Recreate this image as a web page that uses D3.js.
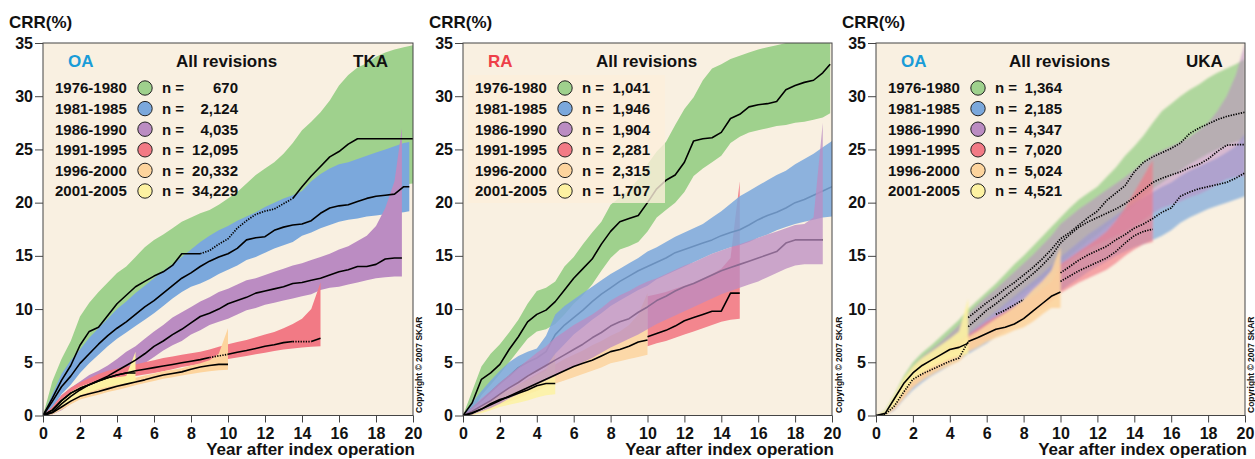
<!DOCTYPE html>
<html>
<head>
<meta charset="utf-8">
<script src="https://cdn.jsdelivr.net/npm/d3@7"></script>
<style>
  body { margin: 0; background: #fff; }
  svg { display: block; }
  text { font-family: "Liberation Sans", Arial, sans-serif; font-weight: bold; fill: #111; }
</style>
</head>
<body>
<svg width="1255" height="459"></svg>
<script>
// time grid (years after index operation)
const years = [0,0.5,1,1.5,2,2.5,3,3.5,4,4.5,5,5.5,6,6.5,7,7.5,8,8.5,9,9.5,10,10.5,11,11.5,12,12.5,13,13.5,14,14.5,15,15.5,16,16.5,17,17.5,18,18.5,19,19.5,20];
const cohorts = ["1976-1980", "1981-1985", "1986-1990", "1991-1995", "1996-2000", "2001-2005"];
const yTicks = [0, 5, 10, 15, 20, 25, 30, 35];
const xTicks = [0, 2, 4, 6, 8, 10, 12, 14, 16, 18, 20];
const colors = ["#9fd18d", "#7ba8dc", "#bb8cc2", "#f27a85", "#fdd49d", "#fdf2a2"];

// ---- TKA, OA ----
const tkaN = [670, 2124, 4035, 12095, 20332, 34229];
const tkaEnd = [20, 19.8, 19.4, 15, 10, 5];
const tkaGreenEst = [0,1.6,3.3,4.7,6.6,7.9,8.3,9.4,10.5,11.3,12.1,12.6,13.1,13.5,14.1,15.2,15.2,15.2,15.5,16.1,16.6,17.6,18.3,18.9,19.2,19.4,19.9,20.4,21.5,22.5,23.4,24.3,24.8,25.5,26,26,26,26,26,26,26];
const tkaGreenLo = [0,0.8,2.5,3.6,4.8,5.8,6.5,7.4,8.3,8.9,9.6,10.2,10.8,11.4,12.0,12.8,13.3,13.6,14.0,14.5,15.0,15.5,16.0,16.4,16.8,17.2,17.6,18.0,18.6,19.2,19.8,20.3,20.7,21.0,21.2,21.3,21.4,21.5,21.6,21.7,21.8];
const tkaGreenHi = [0,3.2,5.3,7.0,9.3,10.6,11.6,12.5,13.4,14.0,14.9,15.8,16.5,17.0,17.6,18.2,18.6,19.0,19.3,19.8,20.4,21.0,21.8,22.6,23.2,23.8,24.6,25.6,26.8,27.6,28.5,29.6,31.0,32.0,32.7,33.1,33.7,34.1,34.4,34.6,34.8];
const tkaBlueEst = [0,1.3,2.7,3.7,4.9,5.8,6.7,7.5,8.2,8.8,9.5,10.2,10.8,11.5,12.2,12.9,13.4,14.0,14.5,14.9,15.2,15.7,16.5,16.7,16.8,17.4,17.7,17.9,18.0,18.3,19.0,19.5,19.7,19.8,20.1,20.4,20.6,20.7,20.8,21.5,21.5];
const tkaBlueLo = [0,0.7,2.0,2.9,4.0,4.9,5.7,6.5,7.2,7.8,8.4,9.0,9.6,10.3,11.0,11.6,12.1,12.4,12.8,13.3,13.7,14.1,14.6,14.9,15.3,15.7,16.0,16.3,16.9,17.2,17.6,17.9,18.2,18.4,18.5,18.7,18.8,18.9,19.0,19.1,19.2];
const tkaBlueHi = [0,2.0,3.9,5.2,6.2,7.3,8.2,9.1,10.0,10.7,11.5,12.2,12.9,13.6,14.2,14.9,15.6,16.3,16.9,17.4,17.8,18.3,18.7,19.1,19.6,20.0,20.4,20.7,21.1,22.0,22.7,23.2,23.6,23.8,24.1,24.4,24.7,25.0,25.3,25.6,25.7];
const tkaPurpleEst = [0,0.3,1.1,1.8,2.4,2.9,3.3,3.7,4.2,4.7,5.2,5.8,6.5,7.0,7.6,8.1,8.7,9.3,9.6,10.0,10.5,10.8,11.1,11.5,11.7,11.9,12.1,12.4,12.5,12.7,12.9,13.2,13.5,13.7,14.0,14.0,14.2,14.7,14.8,14.8];
const tkaPurpleLo = [0,0.1,0.5,1.1,1.6,2.0,2.5,2.9,3.3,3.8,4.3,4.9,5.5,6.1,6.6,7.0,7.6,8.0,8.5,8.8,9.1,9.5,9.9,10.1,10.4,10.6,10.8,11.0,11.2,11.4,11.8,12.0,12.1,12.3,12.5,12.7,12.9,13.0,13.05,13.05];
const tkaPurpleHi = [0,0.8,1.9,2.6,3.2,3.8,4.2,4.7,5.3,6.0,6.5,7.2,7.9,8.5,9.2,9.7,10.2,10.7,11.1,11.6,11.9,12.3,12.7,12.9,13.2,13.5,13.8,14.1,14.3,14.6,14.9,15.2,15.6,15.9,16.4,16.9,17.8,19.5,22.0,27.0];
const tkaRedEst = [0,0.5,1.4,2.1,2.55,2.9,3.25,3.55,3.8,4.0,4.2,4.35,4.5,4.65,4.8,4.95,5.1,5.25,5.45,5.6,5.75,5.95,6.1,6.3,6.5,6.65,6.85,6.95,6.95,6.95,7.25];
const tkaRedLo = [0,0.2,0.9,1.6,2.1,2.5,2.85,3.1,3.3,3.5,3.7,3.85,4.0,4.15,4.35,4.55,4.7,4.85,5.0,5.15,5.3,5.45,5.6,5.75,5.9,6.05,6.2,6.3,6.4,6.45,6.5];
const tkaRedHi = [0,0.8,1.9,2.6,3.1,3.5,3.9,4.2,4.4,4.6,4.8,5.0,5.2,5.4,5.55,5.7,5.85,6.0,6.2,6.45,6.7,6.9,7.1,7.35,7.6,7.85,8.2,8.6,9.1,10.0,12.5];
const tkaOrangeEst = [0,0.25,0.8,1.35,1.8,2.05,2.25,2.5,2.75,2.95,3.15,3.35,3.6,3.8,3.95,4.1,4.35,4.55,4.7,4.8,4.8];
const tkaOrangeLo = [0,0.1,0.55,1.05,1.5,1.75,1.95,2.2,2.4,2.6,2.85,3.05,3.25,3.45,3.6,3.75,3.9,4.05,4.15,4.25,4.3];
const tkaOrangeHi = [0,0.4,1.1,1.7,2.1,2.45,2.7,2.95,3.15,3.35,3.55,3.75,3.95,4.15,4.3,4.45,4.7,4.9,5.2,5.8,8.2];
const tkaYellowEst = [0,0.5,1.4,2.1,2.55,2.9,3.25,3.55,3.8,4.0,4.0];
const tkaYellowLo = [0,0.2,0.9,1.4,1.9,2.2,2.5,2.7,2.9,3.0,3.1];
const tkaYellowHi = [0,0.6,1.5,2.2,2.7,3.0,3.3,3.5,3.6,3.7,6.0];
const tkaDotted = [[[8.5, 13.5]], [], [], [[9, 10], [13.5, 14.5]], [], []];

// ---- RA ----
const raN = [1041, 1946, 1904, 2281, 2315, 1707];
const raEnd = [19.9, 20, 19.5, 15, 10, 5];
const raGreenEst = [0,1.2,3.4,4.0,4.8,6.2,7.4,8.8,9.5,9.9,10.7,11.8,12.9,13.8,14.7,16.1,17.3,18.2,18.5,18.8,20.0,21.3,22.1,22.6,23.8,25.8,26.0,26.1,26.6,27.9,28.3,29.0,29.2,29.3,29.5,30.6,31.0,31.3,31.5,32.2,33.0];
const raGreenLo = [0,0.3,1.9,2.9,3.9,5.0,6.1,7.2,7.9,8.1,8.6,9.5,10.5,11.3,12.3,13.6,14.8,15.6,15.9,16.3,17.3,18.6,19.3,20.0,21.0,22.5,23.2,23.8,24.4,25.6,26.2,26.6,26.8,27.0,27.2,27.3,27.5,27.6,27.8,28.0,28.4];
const raGreenHi = [0,2.3,4.6,5.8,6.7,7.8,9.0,10.5,11.7,12.0,12.6,14.0,14.9,16.1,17.2,18.2,19.8,20.5,21.2,22.2,23.6,24.8,25.7,27.3,28.8,29.9,31.5,32.6,33.0,33.5,33.8,34.1,34.4,34.6,34.8,35,35,35,35,35,35];
const raBlueEst = [0,0.7,1.4,2.2,3.0,3.7,4.5,5.0,5.4,6.0,7.6,8.5,9.2,9.9,10.7,11.4,12.0,12.6,13.1,13.6,14.0,14.4,14.8,15.3,15.6,15.9,16.2,16.5,16.9,17.2,17.45,17.9,18.4,18.8,19.1,19.5,20.0,20.3,20.7,21.1,21.5];
const raBlueLo = [0,0.3,0.8,1.4,2.0,2.6,3.2,3.7,4.1,4.6,5.8,6.7,7.6,8.3,9.0,9.6,10.3,10.8,11.3,11.8,12.2,12.8,13.2,13.6,14.0,14.4,14.8,15.2,15.5,15.8,16.0,16.3,16.7,17.0,17.4,17.7,18.0,18.2,18.4,18.6,18.7];
const raBlueHi = [0,1.2,2.3,3.3,4.2,5.0,5.6,6.0,6.3,7.5,9.5,10.3,10.9,11.5,12.1,12.7,13.3,13.8,14.3,14.8,15.4,15.8,16.3,16.8,17.2,17.6,18.0,18.6,19.2,19.9,20.6,21.1,21.6,22.1,22.6,23.0,23.6,24.1,24.6,25.2,25.8];
const raPurpleEst = [0,0.4,0.9,1.4,2.0,2.6,3.1,3.7,4.2,4.7,5.2,5.7,6.2,6.7,7.3,7.8,8.4,8.8,9.1,9.7,10.2,10.8,11.2,11.7,12.1,12.4,12.8,13.2,13.6,13.9,14.2,14.5,14.8,15.1,15.4,16.2,16.5,16.5,16.5,16.5];
const raPurpleLo = [0,0.1,0.4,0.7,1.1,1.6,2.0,2.5,2.9,3.3,3.7,4.2,4.6,5.0,5.4,5.9,6.4,6.8,7.2,7.6,8.1,8.6,9.0,9.4,9.8,10.2,10.6,11.0,11.4,11.7,12.0,12.3,12.6,13.0,13.4,13.8,14.1,14.2,14.2,14.2];
const raPurpleHi = [0,0.8,1.6,2.3,3.1,3.8,4.5,5.2,5.9,6.5,7.3,7.9,8.5,9.0,9.5,10.1,10.8,11.3,11.7,12.2,12.6,12.9,13.3,13.7,14.1,14.4,14.8,15.2,15.5,15.8,16.1,16.4,16.7,17.0,17.3,17.6,17.9,18.0,18.6,27.5];
const raRedEst = [null,null,null,null,null,null,null,null,null,null,null,null,null,null,null,null,null,null,null,null,7.4,7.7,8.0,8.4,8.9,9.2,9.5,9.8,9.8,11.5,11.5];
const raRedLo = [null,null,null,null,null,null,null,null,null,null,null,null,null,null,null,null,null,null,null,null,6.5,6.8,7.0,7.3,7.6,7.9,8.2,8.5,8.8,9.0,9.1];
const raRedHi = [null,null,null,null,null,null,null,null,null,null,null,null,null,null,null,null,null,null,null,null,11.2,11.4,11.6,11.9,12.2,12.5,12.9,13.3,13.8,14.8,22.0];
const raOrangeEst = [0,0.2,0.6,1.0,1.4,1.8,2.2,2.6,3.0,3.4,3.8,4.2,4.6,4.9,5.2,5.6,6.0,6.2,6.5,6.9,7.1];
const raOrangeLo = [0,0.05,0.3,0.6,1.0,1.3,1.6,2.0,2.3,2.7,3.0,3.3,3.6,3.9,4.2,4.5,4.9,5.1,5.3,5.5,5.7];
const raOrangeHi = [0,0.4,0.9,1.4,1.9,2.4,2.9,3.4,3.9,4.4,4.8,5.3,5.7,6.1,6.6,7.0,7.5,7.9,8.5,9.5,11.5];
const raYellowEst = [0,0.25,0.6,1.1,1.5,1.75,2.1,2.4,2.8,3.0,3.0];
const raYellowLo = [0,0.05,0.2,0.5,0.8,1.0,1.2,1.4,1.7,1.9,2.0];
const raYellowHi = [0,0.45,1.0,1.6,2.1,2.4,2.9,3.3,3.8,4.2,6.5];
const raDotted = [[], [], [], [], [], []];

// ---- UKA, OA ----
const ukaN = [1364, 2185, 4347, 7020, 5024, 4521];
const ukaEnd = [20, 20, 20, 15, 10, 5];
const ukaGreenEst = [null,null,null,null,null,null,null,null,null,null,9.2,9.9,10.6,11.2,11.9,12.5,13.2,13.9,14.7,15.6,16.6,17.2,17.9,18.6,19.2,20.2,20.9,21.6,22.9,23.8,24.3,24.7,25.1,25.6,26.5,27.0,27.4,27.8,28.1,28.3,28.5];
const ukaGreenLo = [0,0.1,0.9,2.2,3.3,4.2,4.9,5.6,6.3,7.0,7.6,8.3,9.0,9.6,10.3,10.9,11.5,12.2,12.8,13.5,14.3,15.0,15.7,16.4,17.0,17.7,18.4,19.1,19.9,20.6,21.3,21.9,22.5,23.0,23.6,24.1,24.6,25.0,25.4,25.7,26.0];
const ukaGreenHi = [0,0.5,2.0,3.7,5.0,5.9,6.6,7.4,8.2,9.0,10.0,10.8,11.6,12.4,13.3,14.2,15.0,15.9,16.8,17.7,18.6,19.5,20.3,20.9,21.5,22.4,23.3,24.4,25.3,26.3,27.5,28.6,29.3,30.0,30.6,31.1,31.7,32.2,32.6,33.0,33.5];
const ukaBlueEst = [null,null,null,null,null,null,null,null,null,null,null,null,null,null,null,null,null,null,null,null,13.4,14.0,14.6,15.1,15.5,15.9,16.5,17.0,17.6,18.0,18.5,19.1,19.5,20.6,21.0,21.3,21.5,21.7,21.9,22.3,22.8];
const ukaBlueLo = [0,0,0.5,1.5,2.4,3.1,3.7,4.2,4.7,5.2,5.8,6.3,6.8,7.4,8.0,8.6,9.2,9.8,10.4,11.0,11.7,12.3,12.9,13.5,14.0,14.5,15.0,15.4,15.8,16.1,16.5,16.9,17.4,18.1,18.6,19.0,19.4,19.7,20.0,20.3,20.6];
const ukaBlueHi = [0,0.2,1.2,2.6,3.7,4.5,5.2,5.8,6.4,7.0,7.7,8.4,9.1,9.8,10.5,11.2,11.9,12.6,13.3,14.1,14.9,15.6,16.3,17.0,17.6,18.2,18.8,19.4,20.0,20.5,21.0,21.5,21.9,22.5,23.0,23.4,23.8,24.2,24.7,25.3,26.5];
const ukaPurpleEst = [null,null,null,null,null,null,null,null,null,null,8.35,9.1,9.9,10.5,11.2,11.9,12.6,13.3,14.1,15.0,16.2,17.0,17.7,18.2,18.6,19.0,19.4,19.9,20.5,21.2,21.9,22.3,22.6,22.9,23.3,23.6,24.1,24.8,25.4,25.45,25.45];
const ukaPurpleLo = [0,0,0.7,1.9,3.0,3.8,4.4,5.0,5.6,6.2,6.9,7.6,8.3,8.9,9.6,10.2,10.9,11.5,12.2,13.0,13.9,14.6,15.2,15.7,16.1,16.5,16.9,17.3,17.8,18.4,19.0,19.5,19.8,20.1,20.5,20.8,21.2,21.7,22.2,22.4,22.5];
const ukaPurpleHi = [0,0.4,1.7,3.3,4.6,5.5,6.2,6.9,7.7,8.5,9.6,10.4,11.2,11.9,12.7,13.5,14.3,15.1,16.0,16.9,18.0,18.7,19.4,20.0,20.6,21.2,21.8,22.4,23.1,23.8,24.5,24.9,25.3,25.7,26.2,26.8,27.5,28.6,30.0,32.0,35.0];
const ukaRedEst = [null,null,null,null,null,null,null,null,null,null,null,null,null,9.5,9.9,10.4,10.9,null,null,null,12.6,13.1,13.6,14.0,14.4,14.8,15.4,16.2,16.9,17.3,17.5];
const ukaRedLo = [0,0,0.6,1.7,2.8,3.5,4.1,4.6,5.1,5.6,6.1,6.6,7.1,7.6,8.1,8.6,9.1,9.6,10.1,10.7,11.5,12.0,12.5,12.9,13.3,13.7,14.3,15.0,15.6,16.1,16.3];
const ukaRedHi = [0,0.2,1.3,2.7,3.9,4.7,5.4,5.9,6.5,7.0,7.6,8.2,8.8,9.3,9.8,10.3,10.8,11.3,11.9,12.6,14.2,14.8,15.4,16.0,16.6,17.3,18.3,19.5,21.0,22.5,24.0];
const ukaOrangeEst = [0,0.1,0.9,2.2,3.4,3.9,4.3,4.7,5.1,5.4,6.95,7.3,7.7,8.1,8.3,8.6,9.1,9.8,10.5,11.2,11.6];
const ukaOrangeLo = [0,0,0.6,1.6,2.6,3.3,3.8,4.3,4.7,5.1,6.0,6.4,6.9,7.3,7.6,8.0,8.3,8.8,9.5,10.1,10.1];
const ukaOrangeHi = [0,0.3,1.4,2.7,3.8,4.6,5.1,5.5,5.9,6.3,7.4,7.9,8.5,9.1,9.6,10.2,10.9,11.8,12.6,13.6,15.8];
const ukaYellowEst = [0,0.2,1.6,3.0,4.0,4.7,5.2,5.7,6.2,6.4,6.8];
const ukaYellowLo = [0,0,0.9,2.2,3.3,4.0,4.5,4.9,5.3,5.6,5.8];
const ukaYellowHi = [0,0.4,1.9,3.5,4.6,5.4,6.0,6.6,7.2,7.9,11.0];
const ukaDotted = [[[0, 21]], [[0, 21]], [[0, 21]], [[0, 16]], [[0, 5]], []];

const panels = [
  { left: 43, right: 413, title: "OA", titleColor: "#1a9cd8", joint: "TKA", n: tkaN, end: tkaEnd,
    est: [tkaGreenEst, tkaBlueEst, tkaPurpleEst, tkaRedEst, tkaOrangeEst, tkaYellowEst],
    lo: [tkaGreenLo, tkaBlueLo, tkaPurpleLo, tkaRedLo, tkaOrangeLo, tkaYellowLo],
    hi: [tkaGreenHi, tkaBlueHi, tkaPurpleHi, tkaRedHi, tkaOrangeHi, tkaYellowHi],
    dotted: tkaDotted, under: [false, false, false, false, false, false],
    opacity: [1, 1, 1, 1, 1, 1], blur: 0, box: false, nRight: 195, copyX: 422 },
  { left: 463, right: 832, title: "RA", titleColor: "#ee4049", joint: "", n: raN, end: raEnd,
    est: [raGreenEst, raBlueEst, raPurpleEst, raRedEst, raOrangeEst, raYellowEst],
    lo: [raGreenLo, raBlueLo, raPurpleLo, raRedLo, raOrangeLo, raYellowLo],
    hi: [raGreenHi, raBlueHi, raPurpleHi, raRedHi, raOrangeHi, raYellowHi],
    dotted: raDotted, under: [false, true, true, false, false, false],
    opacity: [1, 0.86, 0.75, 0.9, 0.85, 0.85], blur: 0.7, box: true, nRight: 187, copyX: 842 },
  { left: 876, right: 1245, title: "OA", titleColor: "#1a9cd8", joint: "UKA", n: ukaN, end: ukaEnd,
    est: [ukaGreenEst, ukaBlueEst, ukaPurpleEst, ukaRedEst, ukaOrangeEst, ukaYellowEst],
    lo: [ukaGreenLo, ukaBlueLo, ukaPurpleLo, ukaRedLo, ukaOrangeLo, ukaYellowLo],
    hi: [ukaGreenHi, ukaBlueHi, ukaPurpleHi, ukaRedHi, ukaOrangeHi, ukaYellowHi],
    dotted: ukaDotted, under: [false, false, false, false, false, false],
    opacity: [0.8, 0.7, 0.55, 0.65, 0.9, 0.9], blur: 1.3, box: false, nRight: 186, copyX: 1254 }
];

const svg = d3.select("svg");
const defs = svg.append("defs");
const fmt = d3.format(",");
const yTop = 43, yBottom = 415.5;

// split a series into solid / dotted runs
function runs(pts, ranges) {
  const isDot = t => ranges.some(([a, b]) => t >= a && t < b);
  const out = [];
  let cur = null;
  pts.forEach(d => {
    if (d.est == null) { cur = null; return; }
    const dot = isDot(d.t);
    if (!cur || cur.dot !== dot) {
      if (cur) cur.pts.push(d);
      cur = { dot, pts: [] };
      out.push(cur);
    }
    cur.pts.push(d);
  });
  return out;
}

panels.forEach((p, pi) => {
  const x = d3.scaleLinear().domain([0, 20]).range([p.left, p.right]);
  const y = d3.scaleLinear().domain([0, 35]).range([yBottom, yTop]);
  const g = svg.append("g");

  g.append("rect")
    .attr("x", p.left).attr("y", yTop)
    .attr("width", p.right - p.left).attr("height", yBottom - yTop)
    .attr("fill", "#f9f0e1");

  defs.append("clipPath").attr("id", "clip" + pi)
    .append("rect")
    .attr("x", p.left).attr("y", yTop)
    .attr("width", p.right - p.left).attr("height", yBottom - yTop);

  if (p.blur > 0) {
    defs.append("filter").attr("id", "blur" + pi)
      .attr("x", "-5%").attr("y", "-5%").attr("width", "110%").attr("height", "110%")
      .append("feGaussianBlur").attr("stdDeviation", p.blur);
  }

  const plot = g.append("g").attr("clip-path", `url(#clip${pi})`);

  const series = cohorts.map((c, i) => p.est[i].map((v, j) => ({
    t: j === p.est[i].length - 1 ? p.end[i] : years[j],
    est: v, lo: p.lo[i][j], hi: p.hi[i][j]
  })));

  const area = d3.area()
    .defined(d => d.lo != null)
    .x(d => x(d.t)).y0(d => y(d.lo)).y1(d => y(d.hi));
  const line = d3.line()
    .x(d => x(d.t)).y(d => y(d.est));

  function drawLine(i) {
    runs(series[i], p.dotted[i]).forEach(r => {
      plot.append("path")
        .attr("d", line(r.pts))
        .attr("fill", "none")
        .attr("stroke", "#000")
        .attr("stroke-width", r.dot ? 1.7 : 1.6)
        .attr("stroke-linejoin", "round")
        .attr("stroke-dasharray", r.dot ? "1.3,1.3" : null);
    });
  }

  const bands = plot.append("g").attr("filter", p.blur > 0 ? `url(#blur${pi})` : null);
  series.forEach((s, i) => {
    if (p.under[i]) drawLine(i);
    const target = p.under[i] ? plot : bands;
    target.append("path")
      .attr("d", area(s))
      .attr("fill", colors[i])
      .attr("fill-opacity", p.opacity[i])
      .attr("filter", p.under[i] && p.blur > 0 ? `url(#blur${pi})` : null);
  });
  series.forEach((s, i) => { if (!p.under[i]) drawLine(i); });

  // frame
  g.append("rect")
    .attr("x", p.left).attr("y", yTop)
    .attr("width", p.right - p.left).attr("height", yBottom - yTop)
    .attr("fill", "none").attr("stroke", "#444").attr("stroke-width", 1);

  // axes
  const ay = g.append("g")
    .attr("transform", `translate(${p.left},0)`)
    .call(d3.axisLeft(y).tickValues(yTicks).tickSize(8).tickPadding(2));
  const ax = g.append("g")
    .attr("transform", `translate(0,${yBottom})`)
    .call(d3.axisBottom(x).tickValues(xTicks).tickSize(7).tickPadding(5));
  [ax, ay].forEach(a => {
    a.select(".domain").remove();
    a.selectAll(".tick line").attr("stroke", "#444");
    a.selectAll(".tick text")
      .attr("fill", "#111")
      .style("font-family", "'Liberation Sans', Arial, sans-serif")
      .style("font-weight", "bold")
      .style("font-size", "16px");
  });

  g.append("text").attr("x", p.left - 34).attr("y", 28)
    .style("font-size", "17px").text("CRR(%)");
  g.append("text").attr("x", p.right + 2).attr("y", 455)
    .attr("text-anchor", "end").style("font-size", "17px")
    .text("Year after index operation");

  // legend
  if (p.box) {
    g.append("rect")
      .attr("x", p.left + 5).attr("y", 75)
      .attr("width", 197).attr("height", 128)
      .attr("fill", "#fdefdb").attr("fill-opacity", 0.8);
  }
  g.append("text").attr("x", p.left + 25).attr("y", 67)
    .style("font-size", "17px").style("fill", p.titleColor).text(p.title);
  g.append("text").attr("x", p.left + 133).attr("y", 67)
    .style("font-size", "17px").text("All revisions");
  if (p.joint) {
    g.append("text").attr("x", p.left + 310).attr("y", 67)
      .style("font-size", "17px").text(p.joint);
  }
  cohorts.forEach((c, i) => {
    const cy = 88 + i * 20.6;
    g.append("text").attr("x", p.left + 12).attr("y", cy + 5.4)
      .style("font-size", "15px").text(c);
    g.append("circle").attr("cx", p.left + 102).attr("cy", cy).attr("r", 7.2)
      .attr("fill", colors[i]).attr("stroke", "#222").attr("stroke-width", 1);
    g.append("text").attr("x", p.left + 119).attr("y", cy + 5.4)
      .style("font-size", "15px").text("n =");
    g.append("text").attr("x", p.left + p.nRight).attr("y", cy + 5.4)
      .attr("text-anchor", "end").style("font-size", "15px").text(fmt(p.n[i]));
  });

  g.append("text")
    .attr("transform", `translate(${p.copyX},413) rotate(-90)`)
    .style("font-size", "8.5px")
    .text("Copyright \u00a9 2007  SKAR");
});
</script>
</body>
</html>
